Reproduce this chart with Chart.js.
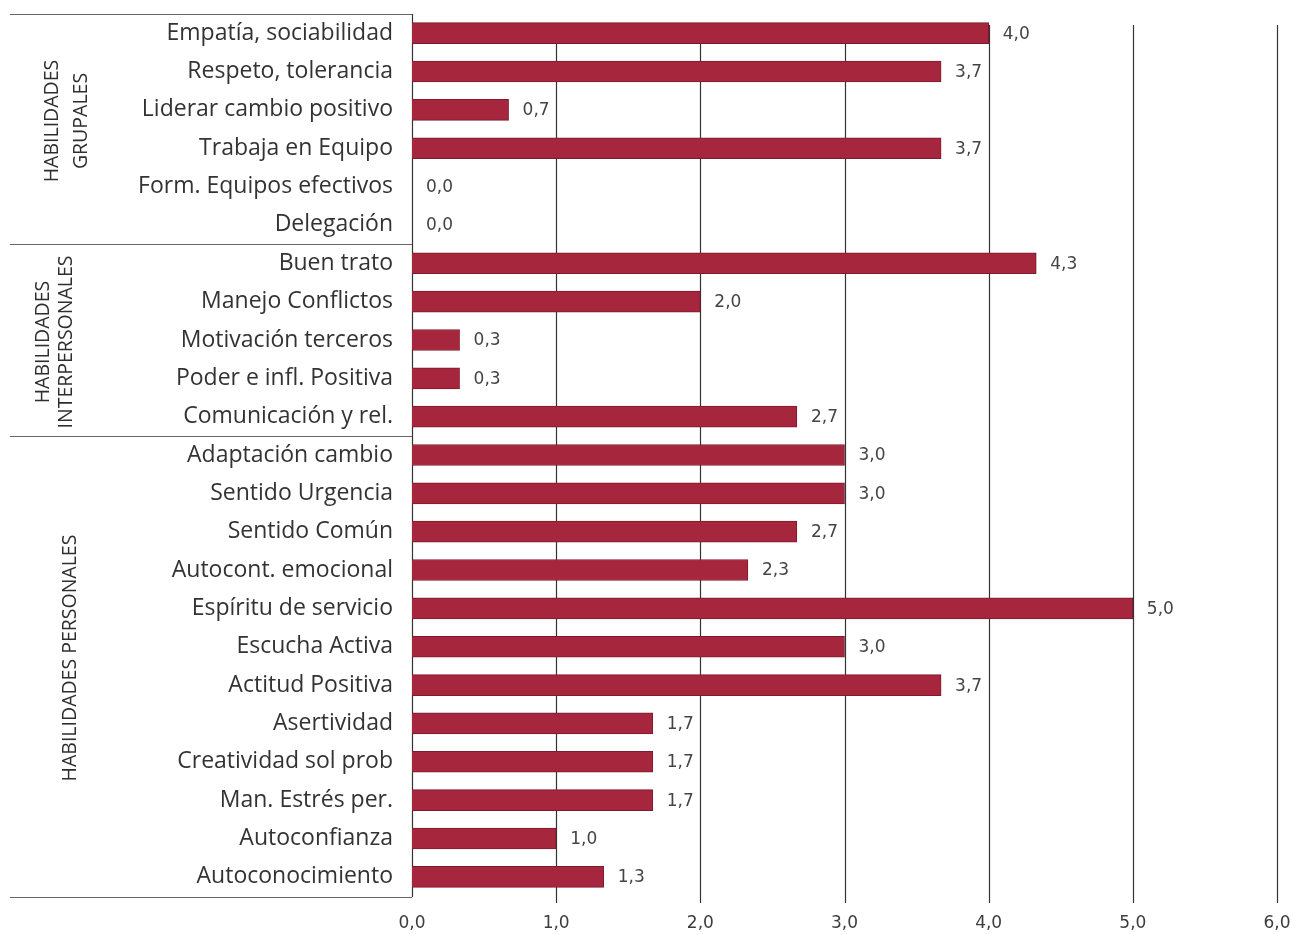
<!DOCTYPE html>
<html>
<head>
<meta charset="utf-8">
<script src="https://cdn.jsdelivr.net/npm/chart.js@4.4.0/dist/chart.umd.min.js"></script>
<style>
  html, body { margin: 0; padding: 0; background: #fff; }
  #wrap { width: 1291px; height: 934px; }
</style>
</head>
<body>
<div id="wrap"><canvas id="chart" width="1291" height="934"></canvas></div>
<script>
const labels = [
  'Empatía, sociabilidad', 'Respeto, tolerancia', 'Liderar cambio positivo', 'Trabaja en Equipo',
  'Form. Equipos efectivos', 'Delegación',
  'Buen trato', 'Manejo Conflictos', 'Motivación terceros', 'Poder e infl. Positiva', 'Comunicación y rel.',
  'Adaptación cambio', 'Sentido Urgencia', 'Sentido Común', 'Autocont. emocional', 'Espíritu de servicio',
  'Escucha Activa', 'Actitud Positiva', 'Asertividad', 'Creatividad sol prob', 'Man. Estrés per.',
  'Autoconfianza', 'Autoconocimiento'
];
const values = [
  4.0, 3.67, 0.67, 3.67, 0.0, 0.0,
  4.33, 2.0, 0.33, 0.33, 2.67,
  3.0, 3.0, 2.67, 2.33, 5.0, 3.0, 3.67, 1.67, 1.67, 1.67, 1.0, 1.33
];
// group name lines, first and last category index of each group
const groups = [
  { lines: ['HABILIDADES', 'GRUPALES'], from: 0, to: 5 },
  { lines: ['HABILIDADES', 'INTERPERSONALES'], from: 6, to: 10 },
  { lines: ['HABILIDADES PERSONALES'], from: 11, to: 22 }
];
const xTicks = [0, 1, 2, 3, 4, 5, 6];

const fmt = v => v.toFixed(1).replace('.', ',');

// gridlines, table lines and group names
const framePlugin = {
  id: 'frame',
  beforeDatasetsDraw(chart) {
    const { ctx, chartArea, scales } = chart;
    const x = scales.x, y = scales.y;
    ctx.save();
    ctx.strokeStyle = '#333';
    ctx.lineWidth = 1.2;
    xTicks.forEach(t => {
      const px = Math.round(x.getPixelForValue(t)) + 0.5;
      ctx.beginPath();
      if (t === 0) {
        ctx.moveTo(px, chartArea.top);
        ctx.lineTo(px, chartArea.bottom + 1);
      } else {
        ctx.moveTo(px, chartArea.top + 11);
        ctx.lineTo(px, chartArea.bottom + 7);
      }
      ctx.stroke();
    });
    // horizontal table lines
    ctx.strokeStyle = '#666';
    ctx.lineWidth = 1;
    const half = (y.getPixelForTick(1) - y.getPixelForTick(0)) / 2;
    const rows = [chartArea.top, chartArea.bottom + 1];
    groups.slice(1).forEach(g => rows.push(y.getPixelForTick(g.from) - half));
    rows.forEach(py => {
      ctx.beginPath();
      ctx.moveTo(10, Math.round(py) + 0.5);
      ctx.lineTo(x.getPixelForValue(0), Math.round(py) + 0.5);
      ctx.stroke();
    });
    // group names
    ctx.fillStyle = '#2e2e2e';
    ctx.font = '19.5px "Open Sans", sans-serif';
    ctx.textAlign = 'center';
    ctx.textBaseline = 'middle';
    const gx = [[52, 81], [43, 66], [70]];
    const gy = [121, 342, 658];
    groups.forEach((g, i) => {
      g.lines.forEach((line, j) => {
        ctx.save();
        ctx.translate(gx[i][j], gy[i]);
        ctx.rotate(-Math.PI / 2);
        ctx.fillText(line, 0, 0);
        ctx.restore();
      });
    });
    ctx.restore();
  },
  afterDatasetsDraw(chart) {
    const { ctx } = chart;
    const meta = chart.getDatasetMeta(0);
    ctx.save();
    ctx.fillStyle = '#444';
    ctx.font = '17px "DejaVu Sans", sans-serif';
    ctx.textAlign = 'left';
    ctx.textBaseline = 'middle';
    meta.data.forEach((bar, i) => {
      ctx.fillText(fmt(values[i]), bar.x + 14, bar.y + 1);
    });
    ctx.restore();
  }
};

new Chart(document.getElementById('chart'), {
  type: 'bar',
  data: {
    labels: labels,
    datasets: [{
      data: values,
      backgroundColor: '#a6263e',
      borderColor: '#7e1a2c',
      borderWidth: 1,
      barThickness: 21
    }]
  },
  options: {
    indexAxis: 'y',
    responsive: false,
    animation: false,
    layout: { padding: { top: 14, right: 0, left: 0, bottom: 0 } },
    plugins: { legend: { display: false }, tooltip: { enabled: false } },
    scales: {
      x: {
        min: 0,
        max: 6,
        afterBuildTicks: s => { s.ticks = xTicks.map(v => ({ value: v })); },
        afterFit: s => { s.paddingRight = 14; s.paddingLeft = 0; s.height = 38; },
        grid: { display: false, drawTicks: false },
        border: { display: false },
        ticks: {
          callback: v => fmt(v),
          color: '#3c3c3c',
          font: { family: '"DejaVu Sans", sans-serif', size: 17 },
          padding: 17,
          maxRotation: 0
        }
      },
      y: {
        afterFit: s => { s.width = 412; s.paddingTop = 0; s.paddingBottom = 0; },
        grid: { display: false, drawTicks: false },
        border: { display: false },
        ticks: {
          color: '#333',
          font: { family: '"Open Sans", sans-serif', size: 23 },
          padding: 19,
          autoSkip: false
        }
      }
    }
  },
  plugins: [framePlugin]
});
</script>
</body>
</html>
